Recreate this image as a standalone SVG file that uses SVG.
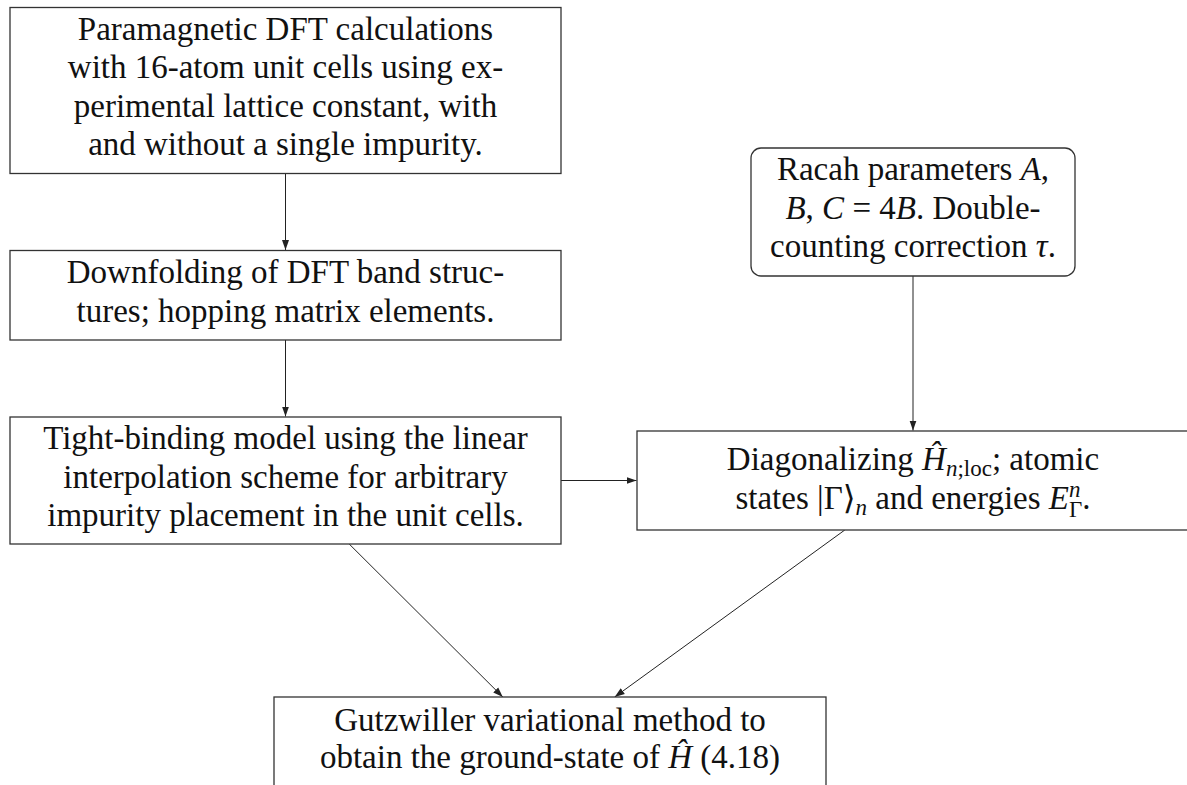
<svg xmlns="http://www.w3.org/2000/svg" width="1187" height="785" viewBox="0 0 1187 785">
<style>
  .box { fill: #ffffff; stroke: #333333; stroke-width: 1.3; }
  .lbl { font-family: "Liberation Serif", "DejaVu Serif", serif; font-size: 33px; fill: #111111; text-anchor: middle; }
  .it { font-style: italic; }
  .sm { font-size: 23px; }
  .edge { fill: none; stroke: #222222; stroke-width: 1; }
</style>
<defs>
  <marker id="arr" markerUnits="userSpaceOnUse" markerWidth="12" markerHeight="10" refX="10" refY="4" orient="auto">
    <path d="M0,0.5 L10,4 L0,7.5 z" fill="#222222"/>
  </marker>
</defs>
<rect x="0" y="0" width="1187" height="785" fill="#ffffff"/>

<g id="connectors">
  <path class="edge" d="M285.5,173.5 V250" marker-end="url(#arr)"/>
  <path class="edge" d="M285.5,340 V416.5" marker-end="url(#arr)"/>
  <path class="edge" d="M913,276 V430.5" marker-end="url(#arr)"/>
  <path class="edge" d="M561,480.5 H636.5" marker-end="url(#arr)"/>
  <path class="edge" d="M349.2,544 L502.8,697" marker-end="url(#arr)"/>
  <path class="edge" d="M844.8,530 L614.7,697" marker-end="url(#arr)"/>
</g>

<g id="node-dft">
  <rect class="box" x="10" y="7.5" width="551" height="166"/>
  <text class="lbl" x="285.5" y="39.5">Paramagnetic DFT calculations</text>
  <text class="lbl" x="285.5" y="78">with 16-atom unit cells using ex-</text>
  <text class="lbl" x="285.5" y="116.5">perimental lattice constant, with</text>
  <text class="lbl" x="285.5" y="155">and without a single impurity.</text>
</g>

<g id="node-downfolding">
  <rect class="box" x="10" y="250.5" width="551" height="89.5"/>
  <text class="lbl" x="285.5" y="283">Downfolding of DFT band struc-</text>
  <text class="lbl" x="285.5" y="321.5">tures; hopping matrix elements.</text>
</g>

<g id="node-tightbinding">
  <rect class="box" x="10" y="417" width="551" height="127"/>
  <text class="lbl" x="285.5" y="449">Tight-binding model using the linear</text>
  <text class="lbl" x="285.5" y="487.5">interpolation scheme for arbitrary</text>
  <text class="lbl" x="285.5" y="526">impurity placement in the unit cells.</text>
</g>

<g id="node-racah">
  <rect class="box" x="751" y="148" width="324" height="128" rx="10" ry="10"/>
  <text class="lbl" x="913" y="180">Racah parameters <tspan class="it">A</tspan>,</text>
  <text class="lbl" x="913" y="219"><tspan class="it">B</tspan>, <tspan class="it">C</tspan> = 4<tspan class="it">B</tspan>. Double-</text>
  <text class="lbl" x="913" y="257">counting correction <tspan class="it">τ</tspan>.</text>
</g>

<g id="node-diag">
  <rect class="box" x="637" y="431" width="552" height="99"/>
  <text class="lbl" x="913" y="470">Diagonalizing <tspan class="it">Ĥ</tspan><tspan class="sm it" dy="6">n</tspan><tspan class="sm">;loc</tspan><tspan dy="-6">; atomic</tspan></text>
  <text class="lbl" x="913" y="508.5">states |Γ⟩<tspan class="sm it" dy="6">n</tspan><tspan dy="-6"> and energies </tspan><tspan class="it">E</tspan><tspan class="sm it" dy="-12">n</tspan><tspan class="sm" dx="-11.5" dy="20">Γ</tspan><tspan dy="-8">.</tspan></text>
</g>

<g id="node-gutzwiller">
  <rect class="box" x="274" y="697" width="552" height="95"/>
  <text class="lbl" x="550" y="730.5">Gutzwiller variational method to</text>
  <text class="lbl" x="550" y="768">obtain the ground-state of <tspan class="it">Ĥ</tspan> (4.18)</text>
</g>
</svg>
